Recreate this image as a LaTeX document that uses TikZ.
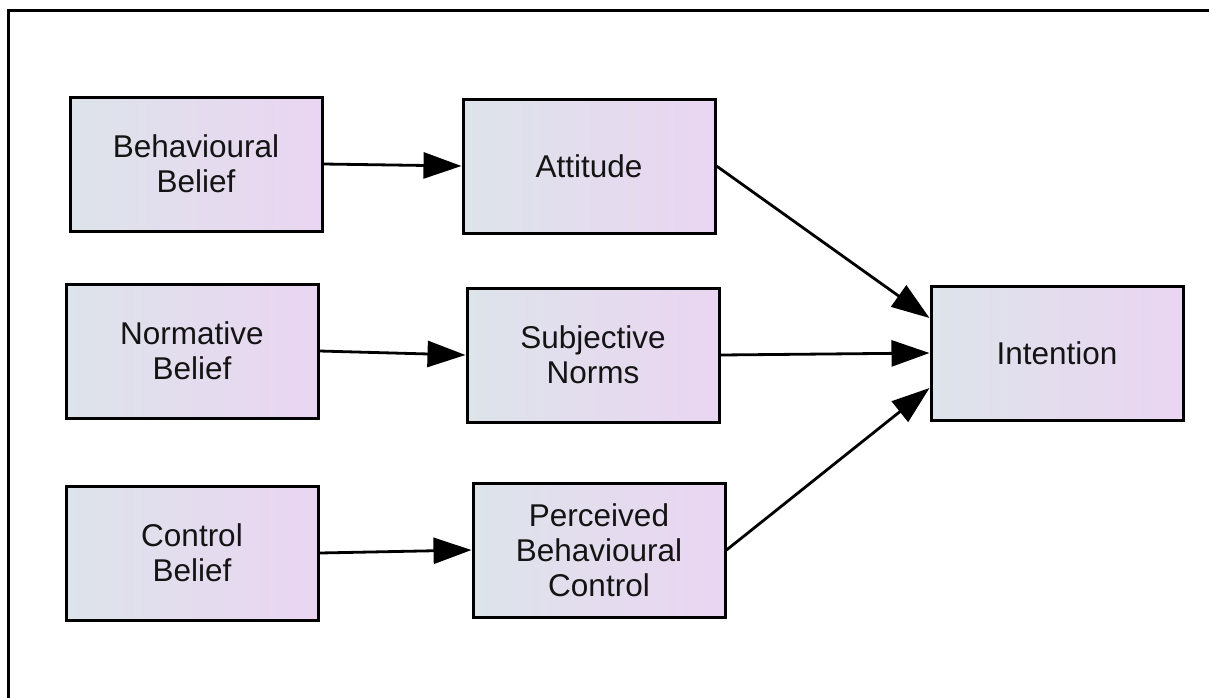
\documentclass[tikz,border=0pt]{standalone}
\usepackage{fontspec}
\setmainfont{Liberation Sans}
\usetikzlibrary{arrows.meta}
\definecolor{lcol}{RGB}{221,228,234}
\definecolor{rcol}{RGB}{234,213,242}
\definecolor{txt}{RGB}{20,20,20}
\tikzset{
  box/.style={draw=black, line width=3pt, left color=lcol, right color=rcol,
    minimum width=252pt, minimum height=134pt, align=center, text=txt,
    font=\fontsize{31.5}{35}\selectfont, inner sep=0pt},
  conn/.style={line width=2.8pt, -{Triangle[length=38pt,width=26pt]}},
}
\begin{document}
\begin{tikzpicture}[x=1pt,y=-1pt]
\useasboundingbox (0,0) rectangle (1209,697);
\draw[line width=3pt] (1220,10) -- (8,10) -- (8,705);
\node[box] (bb) at (196,164) {Behavioural\\Belief};
\node[box] (att) at (589,166) {Attitude};
\node[box] (nb) at (192,351) {Normative\\Belief};
\node[box] (sn) at (593,355) {Subjective\\Norms};
\node[box] (cb) at (192,553) {Control\\Belief};
\node[box] (pbc) at (599,550) {Perceived\\Behavioural\\Control};
\node[box] (int) at (1057,353) {Intention};
\draw[conn] (bb.east) -- (att.west);
\draw[conn] (nb.east) -- (sn.west);
\draw[conn] (cb.east) -- (pbc.west);
\draw[conn] (att.east) -- ([yshift=35pt]int.west);
\draw[conn] (sn.east) -- (int.west);
\draw[conn] (pbc.east) -- ([yshift=-35pt]int.west);
\end{tikzpicture}
\end{document}
